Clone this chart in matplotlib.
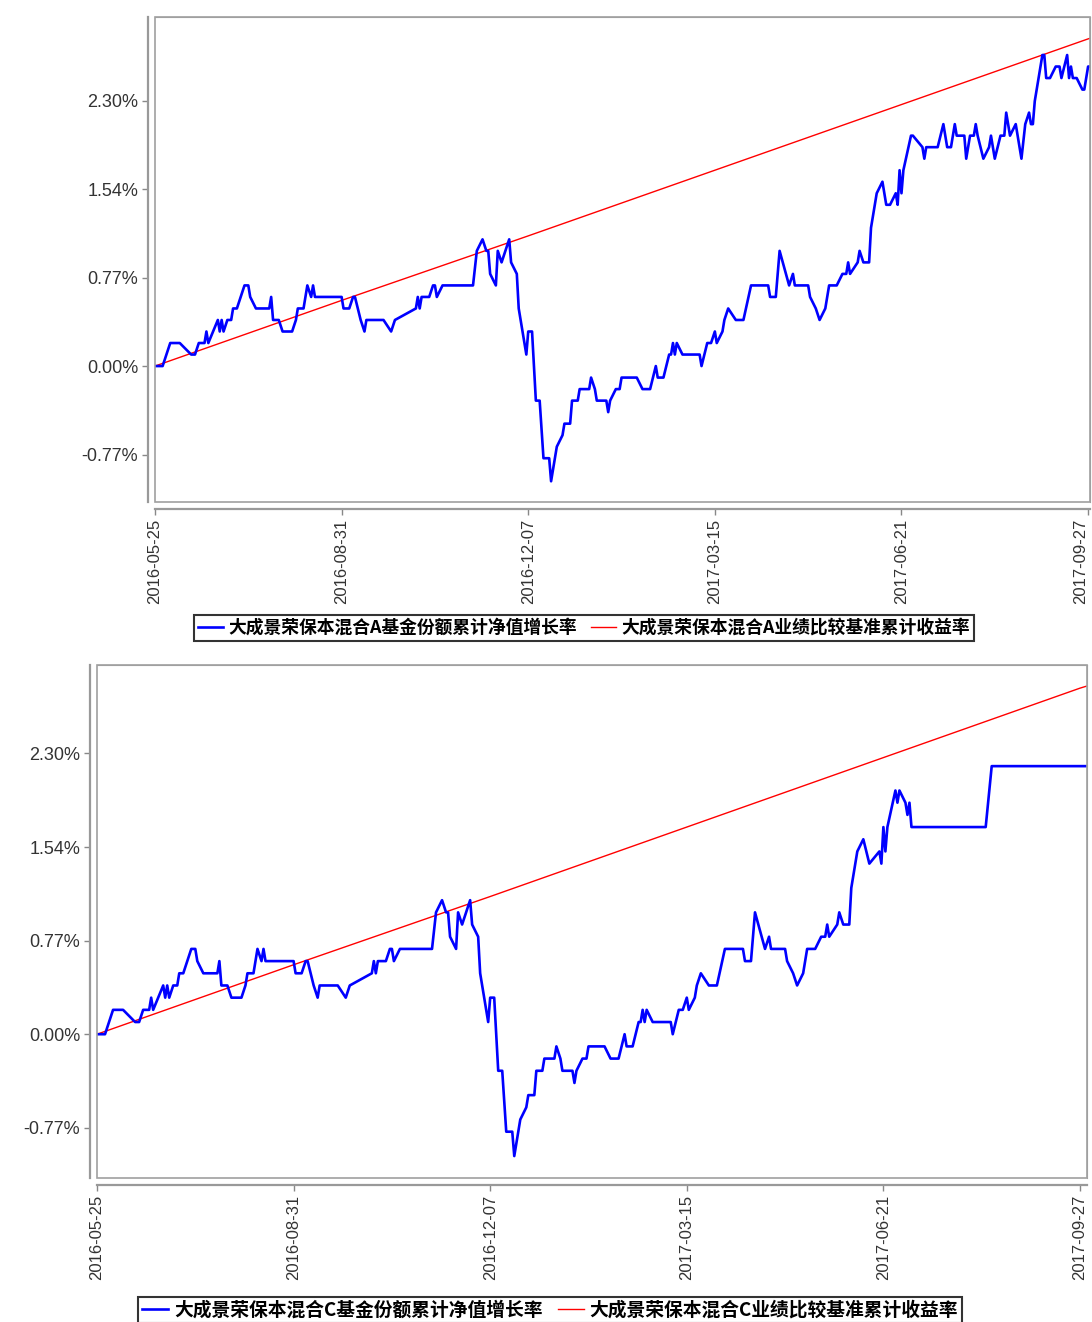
import matplotlib
matplotlib.use("Agg")
import matplotlib.pyplot as plt
from matplotlib.patches import Rectangle
from matplotlib.ticker import FixedLocator, FixedFormatter, FuncFormatter
import pandas as pd

plt.rcParams['font.family'] = ['Liberation Sans', 'DejaVu Sans']

# ---- data (days counted from 2016-05-25, values in %) ----
start_date = "2016-05-25"

days_a = [0, 4, 6, 8, 13, 19, 21, 23, 26, 27, 28, 33, 34, 35, 36, 38, 40, 41, 43, 45,
          47, 49, 50, 53, 60, 61, 62, 65, 67, 72, 74, 75, 78, 80, 82, 83, 84, 98, 99, 102,
          104, 105, 108, 110, 111, 120, 124, 126, 137, 138, 139, 140, 144, 146, 147, 148, 151, 167, 169, 172,
          174, 175, 176, 179, 180, 182, 186, 187, 190, 191, 193, 195, 196, 198, 200, 202, 204, 207, 208, 211,
          214, 215, 218, 219, 222, 223, 228, 229, 231, 232, 237, 238, 239, 242, 244, 245, 253, 256, 260, 263,
          264, 267, 270, 271, 272, 273, 274, 277, 286, 287, 290, 292, 294, 295, 298, 299, 301, 305, 309, 313,
          322, 323, 326, 328, 333, 335, 336, 343, 344, 347, 349, 352, 354, 358, 361, 363, 364, 365, 369, 370,
          372, 375, 376, 379, 382, 384, 386, 389, 390, 391, 392, 393, 397, 398, 403, 404, 405, 411, 414, 416,
          418, 420, 421, 425, 426, 428, 430, 431, 432, 435, 438, 439, 441, 444, 446, 447, 449, 452, 455, 457,
          459, 460, 461, 462, 466, 467, 468, 470, 473, 475, 476, 479, 480, 481, 482, 484, 487, 488, 490, 491]
nav_a = [0.0, 0.0, 0.1, 0.2, 0.2, 0.1, 0.1, 0.2, 0.2, 0.3, 0.2, 0.4, 0.3, 0.4, 0.3, 0.4, 0.4, 0.5, 0.5, 0.6,
         0.7, 0.7, 0.6, 0.5, 0.5, 0.6, 0.4, 0.4, 0.3, 0.3, 0.4, 0.5, 0.5, 0.7, 0.6, 0.7, 0.6, 0.6, 0.5, 0.5,
         0.6, 0.6, 0.4, 0.3, 0.4, 0.4, 0.3, 0.4, 0.5, 0.6, 0.5, 0.6, 0.6, 0.7, 0.7, 0.6, 0.7, 0.7, 1.0, 1.1,
         1.0, 1.0, 0.8, 0.7, 1.0, 0.9, 1.1, 0.9, 0.8, 0.5, 0.3, 0.1, 0.3, 0.3, -0.3, -0.3, -0.8, -0.8, -1.0, -0.7,
         -0.6, -0.5, -0.5, -0.3, -0.3, -0.2, -0.2, -0.1, -0.2, -0.3, -0.3, -0.4, -0.3, -0.2, -0.2, -0.1, -0.1, -0.2, -0.2, 0.0,
         -0.1, -0.1, 0.1, 0.1, 0.2, 0.1, 0.2, 0.1, 0.1, 0.0, 0.2, 0.2, 0.3, 0.2, 0.3, 0.4, 0.5, 0.4, 0.4, 0.7,
         0.7, 0.6, 0.6, 1.0, 0.7, 0.8, 0.7, 0.7, 0.6, 0.5, 0.4, 0.5, 0.7, 0.7, 0.8, 0.8, 0.9, 0.8, 0.9, 1.0,
         0.9, 0.9, 1.2, 1.5, 1.6, 1.4, 1.4, 1.5, 1.4, 1.7, 1.5, 1.7, 2.0, 2.0, 1.9, 1.8, 1.9, 1.9, 2.1, 1.9,
         1.9, 2.1, 2.0, 2.0, 1.8, 2.0, 2.0, 2.1, 2.0, 1.8, 1.9, 2.0, 1.8, 2.0, 2.0, 2.2, 2.0, 2.1, 1.8, 2.1,
         2.2, 2.1, 2.1, 2.3, 2.7, 2.7, 2.5, 2.5, 2.6, 2.6, 2.5, 2.7, 2.5, 2.6, 2.5, 2.5, 2.4, 2.4, 2.6, 2.6]

# class C follows class A until mid-June 2017, then its own values
shared_until = 379
tail_days_c = [382, 385, 390, 391, 392, 393, 394, 398, 399, 400, 403, 404, 405, 406, 443, 446, 493]
tail_nav_c = [1.6, 1.4, 1.5, 1.4, 1.7, 1.5, 1.7, 2.0, 1.9, 2.0, 1.9, 1.8, 1.9, 1.7, 1.7, 2.2, 2.2]
days_c = [d for d in days_a if d <= shared_until] + tail_days_c
nav_c = [v for d, v in zip(days_a, nav_a) if d <= shared_until] + tail_nav_c

bench_days = [0, 98, 196, 294, 392, 490, 494]
bench_pct = [0.00, 0.57, 1.13, 1.70, 2.27, 2.84, 2.86]

tick_dates = ["2016-05-25", "2016-08-31", "2016-12-07", "2017-03-15", "2017-06-21", "2017-09-27"]
ytick_vals = [-0.768, 0.0, 0.768, 1.536, 2.304]

label_a = ["大成景荣保本混合A基金份额累计净值增长率", "大成景荣保本混合A业绩比较基准累计收益率"]
label_c = ["大成景荣保本混合C基金份额累计净值增长率", "大成景荣保本混合C业绩比较基准累计收益率"]


def to_num(days):
    dates = pd.Timestamp(start_date) + pd.to_timedelta(days, unit="D")
    return matplotlib.dates.date2num(dates)


def draw_panel(ax, days, nav, xmax_days, labels):
    ax.plot(to_num(bench_days), bench_pct, color="#ff0000", lw=1.0, label=labels[1])
    ax.plot(to_num(days), nav, color="#0000ff", lw=1.9, label=labels[0])
    ax.set_xlim(to_num([0])[0], to_num([xmax_days])[0])
    ax.set_ylim(-1.18, 3.03)

    ax.xaxis.set_major_locator(FixedLocator(matplotlib.dates.date2num(pd.to_datetime(tick_dates))))
    ax.xaxis.set_major_formatter(FixedFormatter(tick_dates))
    ax.yaxis.set_major_locator(FixedLocator(ytick_vals))
    ax.yaxis.set_major_formatter(FuncFormatter(lambda v, p: "%.2f%%" % v))
    ax.tick_params(axis="x", labelrotation=90, labelsize=12)
    ax.tick_params(axis="y", labelsize=13)
    ax.tick_params(labelcolor="#333333", length=4, width=1, color="#888888", pad=3)

    for s in ["top", "right"]:
        ax.spines[s].set_color("#a0a0a0")
    for s in ["left", "bottom"]:
        ax.spines[s].set_position(("outward", 5))
        ax.spines[s].set_color("#999999")
        ax.spines[s].set_linewidth(1.6)
    ax.add_patch(Rectangle((0, 0), 1, 1, transform=ax.transAxes, fill=False,
                           ec="#a0a0a0", lw=1.2, clip_on=False, zorder=5))


fig = plt.figure(figsize=(10.92, 13.22), dpi=100)
ax1 = fig.add_axes([155 / 1092, 1 - 502 / 1322, 935 / 1092, 485 / 1322])
ax2 = fig.add_axes([97 / 1092, 1 - 1178 / 1322, 990 / 1092, 513 / 1322])

draw_panel(ax1, days_a, nav_a, 491.0, label_a)
draw_panel(ax2, days_c, nav_c, 493.5, label_c)

for ax, labels, cx, cy, fs in [(ax1, label_a, 584 / 1092, 1 - 628 / 1322, 12.8),
                               (ax2, label_c, 550 / 1092, 1 - 1310 / 1322, 13.5)]:
    legend_font = {"family": ["Noto Sans CJK SC", "DejaVu Sans"], "size": fs, "weight": "bold"}
    h, l = ax.get_legend_handles_labels()
    leg = fig.legend(h[::-1], l[::-1], loc="center", bbox_to_anchor=(cx, cy), ncol=2,
                     prop=legend_font, frameon=True, fancybox=False, handlelength=1.4,
                     handletextpad=0.3, columnspacing=0.8, borderpad=0.2, borderaxespad=0)
    leg.get_frame().set_edgecolor("black")
    leg.get_frame().set_linewidth(1.5)

# keep the last date of the top panel inside the figure edge
fig.canvas.draw()
ax1.get_xticklabels()[-1].set_horizontalalignment("right")

fig.savefig("out.png", dpi=100)
